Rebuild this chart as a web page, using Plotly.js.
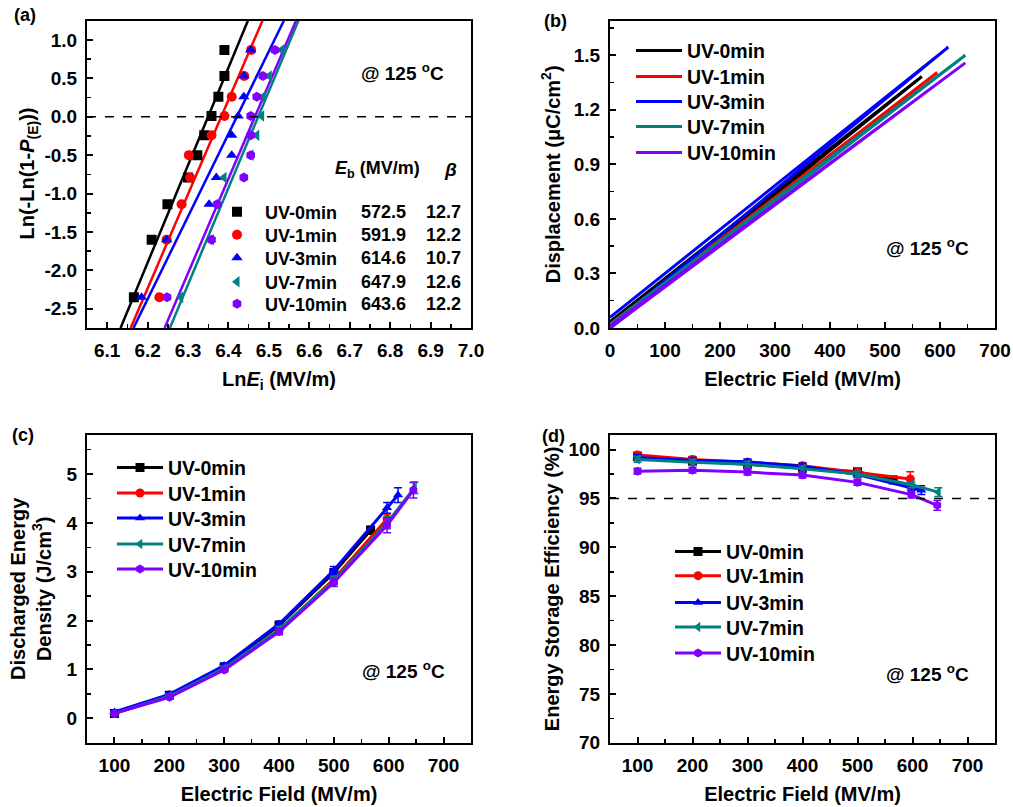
<!DOCTYPE html>
<html><head><meta charset="utf-8">
<script src="https://cdn.plot.ly/plotly-3.0.1.min.js"></script>
<style>html,body{margin:0;padding:0;background:#fff}#chart{width:1013px;height:807px}</style>
</head><body><div id="chart"></div>
<script>
// ---------- data ----------
const seriesNames = ['UV-0min','UV-1min','UV-3min','UV-7min','UV-10min'];
const seriesColors = ['#000000','#FF0000','#0000FF','#008080','#8000FF'];
const seriesSymbols = ['square','circle','triangle-up','triangle-left','hexagon'];

// (a) Weibull
const weibullY = [-2.35,-1.6,-1.14,-0.79,-0.5,-0.24,0.01,0.26,0.53,0.87];
const lnE_UV0  = [6.166,6.210,6.249,6.300,6.323,6.340,6.358,6.375,6.390,6.390];
const lnE_UV1  = [6.229,6.247,6.284,6.305,6.302,6.358,6.390,6.408,6.439,6.456];
const lnE_UV3  = [6.185,6.247,6.352,6.370,6.408,6.408,6.424,6.438,6.438,6.455];
const lnE_UV7  = [6.282,6.358,6.373,6.389,6.456,6.470,6.482,6.486,6.501,6.532];
const lnE_UV10 = [6.248,6.358,6.372,6.438,6.455,6.455,6.455,6.470,6.485,6.515];
const fitY = [-2.75, 1.25];
const fitX_UV0  = [6.133, 6.448];
const fitX_UV1  = [6.158, 6.484];
const fitX_UV3  = [6.165, 6.537];
const fitX_UV7  = [6.255, 6.573];
const fitX_UV10 = [6.242, 6.567];
const Eb   = ['572.5','591.9','614.6','647.9','643.6'];
const beta = ['12.7','12.2','10.7','12.6','12.2'];
const weibullTickVals = [-2.5,-2.0,-1.5,-1.0,-0.5,0.0,0.5,1.0];
const weibullTickText = ['-2.5','-2.0','-1.5','-1.0','-0.5','0.0','0.5','1.0'];

// (b) D-E loops (charge then discharge)
const loopE_UV0  = [0, 567, 0];    const loopD_UV0  = [0, 1.383, 0.035];
const loopE_UV1  = [0, 595, 0];    const loopD_UV1  = [0, 1.405, 0.02];
const loopE_UV3  = [0, 615, 0];    const loopD_UV3  = [0.01, 1.545, 0.058];
const loopE_UV7  = [0, 646, 0];    const loopD_UV7  = [0, 1.50, 0.02];
const loopE_UV10 = [0, 646, 0];    const loopD_UV10 = [0, 1.458, 0.01];

// (c) discharged energy density
const fieldC_UV0  = [100,200,300,400,500,567];
const Ud_UV0      = [0.10,0.47,1.05,1.90,2.98,3.85];
const UdErr_UV0   = [0.03,0.04,0.05,0.06,0.08,0.08];
const fieldC_UV1  = [100,200,300,400,500,597];
const Ud_UV1      = [0.10,0.45,1.02,1.80,2.85,4.08];
const UdErr_UV1   = [0.03,0.04,0.05,0.06,0.08,0.10];
const fieldC_UV3  = [100,200,300,400,500,597,617];
const Ud_UV3      = [0.13,0.49,1.08,1.93,3.03,4.31,4.57];
const UdErr_UV3   = [0.03,0.04,0.05,0.06,0.08,0.11,0.15];
const fieldC_UV7  = [100,200,300,400,500,597,647];
const Ud_UV7      = [0.10,0.45,1.02,1.82,2.82,4.00,4.72];
const UdErr_UV7   = [0.03,0.04,0.05,0.06,0.08,0.12,0.12];
const fieldC_UV10 = [100,200,300,400,500,597,645];
const Ud_UV10     = [0.10,0.43,0.99,1.77,2.78,3.95,4.67];
const UdErr_UV10  = [0.03,0.04,0.05,0.06,0.08,0.15,0.16];

// (d) energy storage efficiency
const fieldD_UV0  = [100,200,300,400,500,565];
const eta_UV0     = [99.3,98.8,98.5,98.1,97.75,96.9];
const etaErr_UV0  = [0.35,0.3,0.3,0.3,0.4,0.35];
const fieldD_UV1  = [100,200,300,400,500,596];
const eta_UV1     = [99.45,99.0,98.7,98.35,97.65,97.0];
const etaErr_UV1  = [0.3,0.3,0.3,0.3,0.5,0.75];
const fieldD_UV3  = [100,200,300,400,500,598,616];
const eta_UV3     = [99.2,98.9,98.75,98.3,97.45,96.15,95.85];
const etaErr_UV3  = [0.3,0.3,0.3,0.3,0.3,0.3,0.45];
const fieldD_UV7  = [100,200,300,400,500,598,647];
const eta_UV7     = [99.0,98.7,98.5,98.05,97.5,96.4,95.65];
const etaErr_UV7  = [0.3,0.3,0.3,0.3,0.3,0.3,0.45];
const fieldD_UV10 = [100,200,300,400,500,598,645];
const eta_UV10    = [97.8,97.9,97.7,97.4,96.65,95.4,94.3];
const etaErr_UV10 = [0.3,0.3,0.3,0.3,0.3,0.35,0.5];

// ---------- build ----------
const W = 1013, H = 807;
const px = v => v / W;
const py = v => 1 - v / H;
const FONT = 'Liberation Sans, Arial, Helvetica, sans-serif';

const lnEs = [lnE_UV0, lnE_UV1, lnE_UV3, lnE_UV7, lnE_UV10];
const fitXs = [fitX_UV0, fitX_UV1, fitX_UV3, fitX_UV7, fitX_UV10];
const loopEs = [loopE_UV0, loopE_UV1, loopE_UV3, loopE_UV7, loopE_UV10];
const loopDs = [loopD_UV0, loopD_UV1, loopD_UV3, loopD_UV7, loopD_UV10];
const fieldCs = [fieldC_UV0, fieldC_UV1, fieldC_UV3, fieldC_UV7, fieldC_UV10];
const Uds = [Ud_UV0, Ud_UV1, Ud_UV3, Ud_UV7, Ud_UV10];
const UdErrs = [UdErr_UV0, UdErr_UV1, UdErr_UV3, UdErr_UV7, UdErr_UV10];
const fieldDs = [fieldD_UV0, fieldD_UV1, fieldD_UV3, fieldD_UV7, fieldD_UV10];
const etas = [eta_UV0, eta_UV1, eta_UV3, eta_UV7, eta_UV10];
const etaErrs = [etaErr_UV0, etaErr_UV1, etaErr_UV3, etaErr_UV7, etaErr_UV10];

// one legend box per row so that rows can sit exactly where the reference has them
const legId = (p, i) => { const k = p * 5 + i + 1; return k === 1 ? 'legend' : 'legend' + k; };

const traces = [];
seriesNames.forEach((n, i) => {
  traces.push({type:'scatter', mode:'lines', x: fitXs[i], y: fitY, xaxis:'x', yaxis:'y',
    line:{color: seriesColors[i], width:2.5}, showlegend:false, hoverinfo:'skip'});
});
seriesNames.forEach((n, i) => {
  traces.push({type:'scatter', mode:'markers', name:n, x: lnEs[i], y: weibullY, xaxis:'x', yaxis:'y',
    legend: legId(0, i), marker:{symbol: seriesSymbols[i], size:10, color: seriesColors[i]}});
});
seriesNames.forEach((n, i) => {
  traces.push({type:'scatter', mode:'lines', name:n, x: loopEs[i], y: loopDs[i], xaxis:'x2', yaxis:'y2',
    legend: legId(1, i), line:{color: seriesColors[i], width:3}});
});
seriesNames.forEach((n, i) => {
  traces.push({type:'scatter', mode:'lines+markers', name:n, x: fieldCs[i], y: Uds[i], xaxis:'x3', yaxis:'y3',
    legend: legId(2, i), line:{color: seriesColors[i], width:3},
    marker:{symbol: seriesSymbols[i], size:9, color: seriesColors[i]},
    error_y:{type:'data', array: UdErrs[i], visible:true, color: seriesColors[i], thickness:1.5, width:4}});
});
seriesNames.forEach((n, i) => {
  traces.push({type:'scatter', mode:'lines+markers', name:n, x: fieldDs[i], y: etas[i], xaxis:'x4', yaxis:'y4',
    legend: legId(3, i), line:{color: seriesColors[i], width:3},
    marker:{symbol: seriesSymbols[i], size:9, color: seriesColors[i]},
    error_y:{type:'data', array: etaErrs[i], visible:true, color: seriesColors[i], thickness:1.5, width:4}});
});

function axis(o) {
  const a = Object.assign({
    showgrid:false, zeroline:false, showline:true, linecolor:'#000', linewidth:2, mirror:true,
    ticks:'inside', ticklen:6, tickwidth:2, tickcolor:'#000',
    tickfont:{size:19, family:FONT, color:'#000', weight:'bold'},
    ticklabelstandoff:4,
    minor:{ticks:'inside', ticklen:4, tickwidth:1.5, tickcolor:'#000', showgrid:false, dtick:o.mdtick}
  }, o.extra);
  if (o.t) a.title = {text:o.t, font:{size:20, family:FONT, color:'#000', weight:'bold'}, standoff:o.so};
  return a;
}

const colA = [87/W, 471/W], colB = [610/W, 995/W];
const rowTop = [1-328/H, 1-20.7/H], rowBot = [1-742.7/H, 1-435/H];

const layout = {
  width: W, height: H, margin:{l:0,r:0,t:0,b:0},
  paper_bgcolor:'#fff', plot_bgcolor:'#fff',
  font:{family:FONT, color:'#000', weight:'bold'},
  showlegend:true,
  xaxis: axis({t:'Ln<i>E</i><sub>i</sub> (MV/m)', so:12, mdtick:0.05, extra:{domain:colA, anchor:'y', range:[6.05,7.0], tick0:6.1, dtick:0.1, tickformat:'.1f'}}),
  yaxis: axis({t:'', so:0, mdtick:0.25, extra:{domain:rowTop, anchor:'x', range:[-2.75,1.25], tickmode:'array', tickvals:weibullTickVals, ticktext:weibullTickText}}),
  xaxis2: axis({t:'Electric Field (MV/m)', so:12, mdtick:50, extra:{domain:colB, anchor:'y2', range:[0,700], tick0:0, dtick:100}}),
  yaxis2: axis({t:'Displacement (μC/cm<sup>2</sup>)', so:8, mdtick:0.15, extra:{domain:rowTop, anchor:'x2', range:[0,1.69], tick0:0, dtick:0.3, tickformat:'.1f'}}),
  xaxis3: axis({t:'Electric Field (MV/m)', so:12, mdtick:50, extra:{domain:colA, anchor:'y3', range:[50,750], tick0:100, dtick:100}}),
  yaxis3: axis({t:'Discharged Energy<br>Density (J/cm<sup>3</sup>)', so:10, mdtick:0.5, extra:{domain:rowBot, anchor:'x3', range:[-0.5,5.8], tick0:0, dtick:1}}),
  xaxis4: axis({t:'Electric Field (MV/m)', so:12, mdtick:50, extra:{domain:colB, anchor:'y4', range:[50,750], tick0:100, dtick:100}}),
  yaxis4: axis({t:'Energy Storage Efficiency (%)', so:3, mdtick:2.5, extra:{domain:rowBot, anchor:'x4', range:[70,101.5], tick0:70, dtick:5}}),
  shapes: [
    {type:'line', xref:'x domain', yref:'y', x0:0, x1:1, y0:0, y1:0, line:{color:'#000', width:1.5, dash:'dash'}},
    {type:'line', xref:'x4 domain', yref:'y4', x0:0, x1:1, y0:95, y1:95, line:{color:'#000', width:1.5, dash:'dash'}}
  ],
  annotations: []
};
// minor ticks for the array-tick axis
layout.yaxis.minor = {ticks:'inside', ticklen:4, tickwidth:1.5, tickcolor:'#000', showgrid:false, tickmode:'linear', tick0:-2.75, dtick:0.25};

// legend rows: left x of legend box, row centre y values, font size
const legendRows = [
  {x:209, ys:[212,235,258,282,304], size:18},
  {x:631, ys:[50.7,76.7,101.7,126.7,152.7], size:19.5},
  {x:112, ys:[467.7,493.3,518.3,544.3,569.3], size:19.5},
  {x:670, ys:[551.7,576,602.7,627.3,653.3], size:19.5}
];
legendRows.forEach((r, p) => {
  r.ys.forEach((yc, i) => {
    layout[legId(p, i)] = {x:px(r.x), y:py(yc), xanchor:'left', yanchor:'middle',
      bgcolor:'rgba(0,0,0,0)', borderwidth:0, itemwidth:46,
      font:{size:r.size, family:FONT, color:'#000', weight:'bold'}};
  });
});

const ann = (x, y, text, size, xanchor) => ({xref:'paper', yref:'paper', x:px(x), y:py(y), text, showarrow:false,
  xanchor: xanchor || 'center', yanchor:'middle', font:{size, family:FONT, color:'#000', weight:'bold'}});

// y-axis title of panel (a)
layout.annotations.push(Object.assign(ann(27.5, 174, 'Ln(-Ln(1-<i>P</i><sub>(E)</sub>))', 20), {textangle:-90}));
layout.annotations.push(ann(25, 15, '(a)', 18));
layout.annotations.push(ann(555, 21, '(b)', 18));
layout.annotations.push(ann(23, 435, '(c)', 18));
layout.annotations.push(ann(553, 436, '(d)', 18));
layout.annotations.push(ann(402, 72, '@ 125 <sup>o</sup>C', 19));
layout.annotations.push(ann(927, 247, '@ 125 <sup>o</sup>C', 19));
layout.annotations.push(ann(403, 670, '@ 125 <sup>o</sup>C', 19));
layout.annotations.push(ann(927, 673, '@ 125 <sup>o</sup>C', 19));
layout.annotations.push(ann(377, 170, '<i>E</i><sub>b</sub> (MV/m)', 18));
layout.annotations.push(ann(450, 170, '<i>β</i>', 19));
const rowsY = legendRows[0].ys;
Eb.forEach((v, i) => layout.annotations.push(ann(408, rowsY[i], v, 18, 'right')));
beta.forEach((v, i) => layout.annotations.push(ann(463, rowsY[i], v, 18, 'right')));

Plotly.newPlot('chart', traces, layout, {displayModeBar:false, staticPlot:true});
</script>
</body></html>
